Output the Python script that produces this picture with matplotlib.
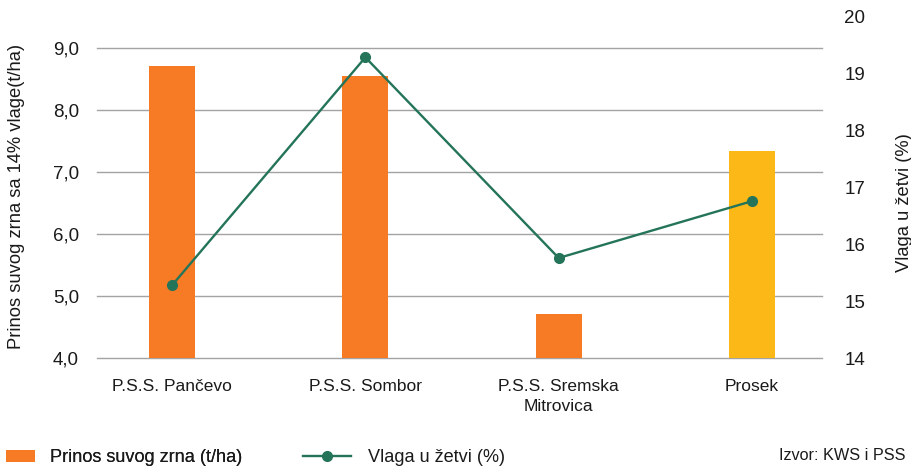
import matplotlib
matplotlib.use('Agg')
import matplotlib.pyplot as plt
from matplotlib.patches import Patch
from matplotlib.lines import Line2D

plt.rcParams.update({
    'font.family': ['Liberation Sans', 'DejaVu Sans'],
    'font.size': 12.5,
})

categories = ['P.S.S. Pančevo', 'P.S.S. Sombor', 'P.S.S. Sremska\nMitrovica', 'Prosek']
yield_t_ha = [8.71, 8.55, 4.71, 7.34]
moisture_pct = [15.28, 19.29, 15.76, 16.76]
left_ticks = [4, 5, 6, 7, 8, 9]
right_ticks = [14, 15, 16, 17, 18, 19, 20]

ORANGE = '#F77B25'
YELLOW = '#FBB817'
GREEN = '#24745A'
GRID = '#A3A3A3'
TXT = '#1a1a1a'

fig = plt.figure(figsize=(9.12, 4.68), dpi=100)
ax = fig.add_axes([0.1064, 0.235, 0.7949, 0.7287])
ax2 = ax.twinx()

x = list(range(len(categories)))
bar_colors = [ORANGE] * (len(categories) - 1) + [YELLOW]
ax.bar(x, yield_t_ha, width=0.238, color=bar_colors, zorder=2)
ax.set_ylim(4, 9.5)
ax.set_yticks(left_ticks)
ax.set_yticklabels([f'{v:.1f}'.replace('.', ',') for v in left_ticks])
ax.set_xlim(-0.388, 3.362)
ax.set_xticks(x)
ax.set_xticklabels(categories, linespacing=1.45)
ax.grid(axis='y', color=GRID, linewidth=1.0, zorder=0)
for gl in ax.get_ygridlines():
    gl.set_clip_on(False)
ax.set_axisbelow(True)
ax.tick_params(axis='both', length=0, colors=TXT)
ax.tick_params(axis='x', pad=15, labelsize=12.5)
ax.tick_params(axis='y', pad=13, labelsize=13.5)
for s in ax.spines.values():
    s.set_visible(False)

ax2.plot(x, moisture_pct, color=GREEN, linewidth=1.7, marker='o',
         markersize=7, zorder=3)
ax2.set_ylim(14, 20)
ax2.set_yticks(right_ticks)
ax2.tick_params(axis='y', length=0, colors=TXT, labelsize=13.5, pad=16)
for s in ax2.spines.values():
    s.set_visible(False)

fig.text(0.0186, 0.581, 'Prinos suvog zrna sa 14% vlage(t/ha)', rotation=90,
         ha='center', va='center', fontsize=13.2, color=TXT)
fig.text(0.992, 0.567, 'Vlaga u žetvi (%)', rotation=90,
         ha='center', va='center', fontsize=13.2, color=TXT)

leg1 = fig.legend([Patch(facecolor=ORANGE, edgecolor='none')],
                  ['Prinos suvog zrna (t/ha)'],
                  loc='center left', bbox_to_anchor=(6 / 912, 1 - 458 / 468),
                  frameon=False, fontsize=13.1, handlelength=1.6, handleheight=0.66,
                  handletextpad=0.83, borderpad=0, borderaxespad=0, labelcolor=TXT)
fig.add_artist(leg1)
fig.legend([Line2D([0], [0], color=GREEN, linewidth=1.7, marker='o', markersize=7)],
           ['Vlaga u žetvi (%)'],
           loc='center left', bbox_to_anchor=(303 / 912, 1 - 458 / 468),
           frameon=False, fontsize=13.1, handlelength=2.66,
           handletextpad=0.89, borderpad=0, borderaxespad=0, labelcolor=TXT)
fig.text(0.9934, 1 - 456 / 468, 'Izvor: KWS i PSS', ha='right', va='center',
         fontsize=11.7, color=TXT)

fig.savefig('out.png', dpi=100, facecolor='white')
